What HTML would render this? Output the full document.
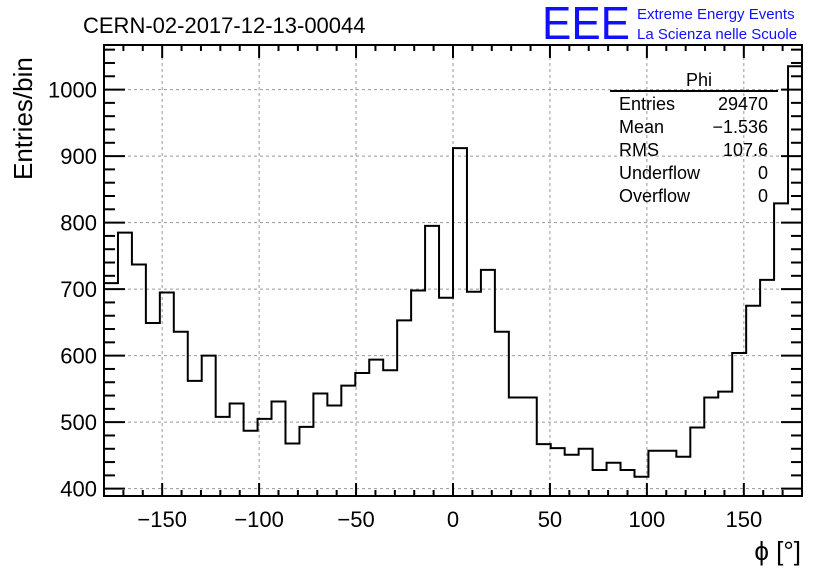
<!DOCTYPE html>
<html><head><meta charset="utf-8"><style>
body{margin:0;background:#fff;}
svg{display:block;font-family:"Liberation Sans",sans-serif;}
</style></head><body>
<svg id="c" width="836" height="572" viewBox="0 0 836 572">
<rect x="0" y="0" width="836" height="572" fill="#fff"/>
<text x="83" y="33" font-size="22">CERN-02-2017-12-13-00044</text>
<text x="542" y="39" font-size="46" fill="#1010ff" textLength="88" lengthAdjust="spacingAndGlyphs">EEE</text>
<text x="637" y="19" font-size="15" fill="#1010ff">Extreme Energy Events</text>
<text x="637" y="39" font-size="15" fill="#1010ff">La Scienza nelle Scuole</text>
<text transform="translate(32,180) rotate(-90)" font-size="26">Entries/bin</text>
<text x="801" y="560" font-size="26" text-anchor="end">ϕ [°]</text>
<g id="grid"></g><g id="ticks"></g>
<path id="hist" fill="none" stroke="#000" stroke-width="2"/>
<rect x="104" y="45" width="698" height="451" fill="none" stroke="#000" stroke-width="2"/>
<g font-size="18">
<text x="699" y="86" text-anchor="middle">Phi</text>
<line x1="610" y1="91" x2="778" y2="91" stroke="#000" stroke-width="2"/>
<text x="619" y="110">Entries</text><text x="768" y="110" text-anchor="end">29470</text>
<text x="619" y="133">Mean</text><text x="768" y="133" text-anchor="end">−1.536</text>
<text x="619" y="156">RMS</text><text x="768" y="156" text-anchor="end">107.6</text>
<text x="619" y="179">Underflow</text><text x="768" y="179" text-anchor="end">0</text>
<text x="619" y="202">Overflow</text><text x="768" y="202" text-anchor="end">0</text>
</g>
</svg>
<script>
const binEdges=[-180,180];
const counts=[709,785,737,649,695,636,562,600,508,528,487,505,531,468,493,543,525,555,574,594,578,653,698,795,687,912,696,729,636,537,537,467,461,451,460,428,439,428,418,457,457,448,492,537,546,604,675,714,829,1035];
const xTicks=[-150,-100,-50,0,50,100,150];
const yTicks=[400,500,600,700,800,900,1000];
const X0=104,X1=802,Y0=496,Y1=45,XMIN=-180,XMAX=180,YMIN=389,YMAX=1067;
function sx(v){return X0+(v-XMIN)/(XMAX-XMIN)*(X1-X0);}
function sy(v){return Y0-(v-YMIN)/(YMAX-YMIN)*(Y0-Y1);}
const NS="http://www.w3.org/2000/svg";
const grid=document.getElementById('grid'),tk=document.getElementById('ticks');
function ln(p,x1,y1,x2,y2,st,w,da){const l=document.createElementNS(NS,'line');l.setAttribute('x1',x1);l.setAttribute('y1',y1);l.setAttribute('x2',x2);l.setAttribute('y2',y2);l.setAttribute('stroke',st);l.setAttribute('stroke-width',w);if(da)l.setAttribute('stroke-dasharray',da);p.appendChild(l);return l;}
xTicks.forEach(v=>{const x=sx(v);
const g=ln(grid,x,Y1,x,Y0,'#999',1,'3,3');


const t=document.createElementNS(NS,'text');t.setAttribute('x',x);t.setAttribute('y',527);t.setAttribute('font-size','22');t.setAttribute('text-anchor','middle');t.textContent=v<0?'−'+(-v):String(v);


tk.appendChild(t);});
for(let v=-180;v<=180;v+=10){const x=sx(v);const L=(v%50===0)?13:6;ln(tk,x,Y0,x,Y0-L,'#000',2);ln(tk,x,Y1,x,Y1+L,'#000',2);}
yTicks.forEach(v=>{const y=sy(v);
const g=ln(grid,X0,y,X1,y,'#999',1,'3,3');


const t=document.createElementNS(NS,'text');t.setAttribute('x',97);t.setAttribute('y',y+8);t.setAttribute('font-size','22');t.setAttribute('text-anchor','end');t.textContent=v;


tk.appendChild(t);});
for(let v=400;v<=1060;v+=20){const y=sy(v);const L=(v%100===0)?21:11;ln(tk,X0,y,X0+L,y,'#000',2);ln(tk,X1,y,X1-L,y,'#000',2);}
const n=counts.length,w=(binEdges[1]-binEdges[0])/n;
let d='M'+sx(binEdges[0])+','+Y0;
counts.forEach((c,i)=>{const a=sx(binEdges[0]+i*w),b=sx(binEdges[0]+(i+1)*w),y=sy(c);d+=' L'+a+','+y+' L'+b+','+y;});
document.getElementById('hist').setAttribute('d',d);
</script>
</body></html>
